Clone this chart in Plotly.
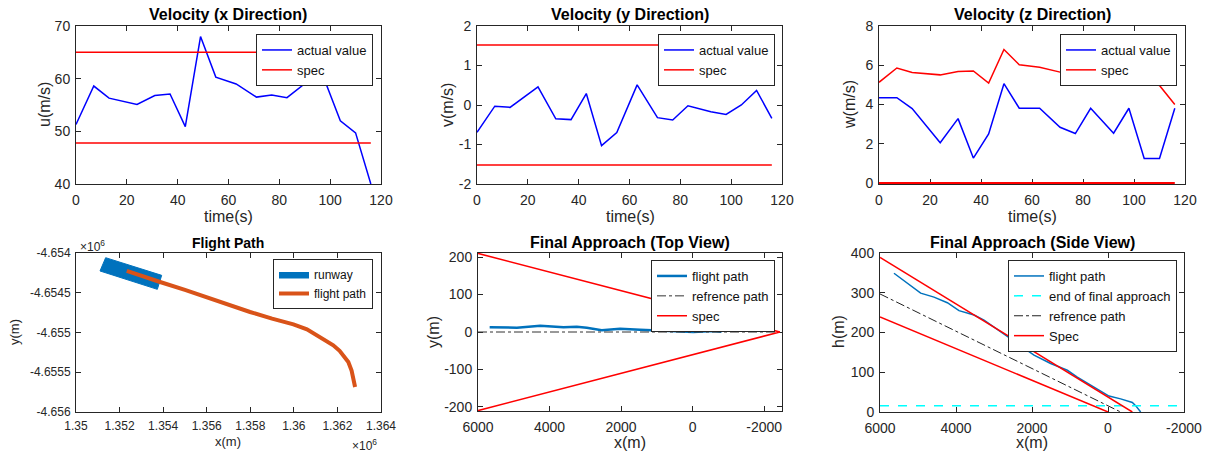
import plotly.graph_objects as go

W, H = 1209, 457
FONT = "Liberation Sans, Arial, Helvetica, sans-serif"
TICKC = "#262626"

# ---------------- data ----------------
time_s = [0, 7, 13, 24, 31, 37, 43, 49, 55, 63, 71, 77, 83, 92, 98, 104, 110, 116]
u_actual = [51.3, 58.6, 56.3, 55.1, 56.8, 57.1, 50.9, 68.0, 60.3, 59.0, 56.5, 56.9, 56.4, 59.8, 59.5, 52.0, 49.7, 40.0]
u_spec_hi = 65.0
u_spec_lo = 47.8
v_actual = [-0.69, -0.03, -0.06, 0.46, -0.35, -0.37, 0.29, -1.03, -0.70, 0.51, -0.32, -0.38, -0.02, -0.17, -0.24, 0.0, 0.37, -0.34]
v_spec_hi = 1.52
v_spec_lo = -1.52
w_actual = [4.35, 4.35, 3.79, 2.05, 3.28, 1.27, 2.50, 5.06, 3.81, 3.81, 2.84, 2.52, 3.81, 2.54, 3.81, 1.25, 1.25, 3.81]
w_spec_hi = [5.13, 5.86, 5.63, 5.51, 5.68, 5.71, 5.09, 6.80, 6.03, 5.90, 5.65, 5.69, 5.64, 5.98, 5.95, 5.20, 4.97, 4.00]
w_spec_lo = 0.0

# tick labels
time_ticks = [0, 20, 40, 60, 80, 100, 120]
u_ticks = [40, 50, 60, 70]
v_ticks = [-2, -1, 0, 1, 2]
w_ticks = [0, 2, 4, 6, 8]
fp_x_ticks = [1350000, 1352000, 1354000, 1356000, 1358000, 1360000, 1362000, 1364000]
fp_x_labels = ["1.35", "1.352", "1.354", "1.356", "1.358", "1.36", "1.362", "1.364"]
fp_y_ticks = [-4656000, -4655500, -4655000, -4654500, -4654000]
fp_y_labels = ["-4.656", "-4.6555", "-4.655", "-4.6545", "-4.654"]
app_x_ticks = [6000, 4000, 2000, 0, -2000]
top_y_ticks = [-200, -100, 0, 100, 200]
side_h_ticks = [0, 100, 200, 300, 400]

# flight path (global coordinates, m)
path_x = [1352330, 1353000, 1353860, 1355000, 1356000, 1357000, 1357990, 1359000, 1359980,
          1360600, 1361050, 1361500, 1361810, 1362100, 1362300, 1362500, 1362650, 1362810]
path_y = [-4654226, -4654290, -4654365, -4654465, -4654562, -4654655, -4654742, -4654825, -4654897,
          -4654960, -4655036, -4655110, -4655161, -4655230, -4655300, -4655371, -4655480, -4655686]
runway_x = [1351362, 1351102, 1353733, 1353932, 1351362]
runway_y = [-4654059, -4654226, -4654457, -4654281, -4654059]

# final approach, top view
top_x = [5674, 4912, 4260, 3609, 3237, 2958, 2540, 2028, 1470, 726, -19, -577, -809]
top_y = [12.5, 11.6, 16.9, 12.5, 14.3, 11.6, 4.5, 8.9, 6.2, 3.6, 0.0, 2.7, 0.9]
top_ref_x = [6000, -2440]
top_ref_y = [0, 0]
top_spec_x = [6000, -2440, 6000]
top_spec_y = [210, 0, -210]

# final approach, side view
side_x = [5632, 5281, 4930, 4579, 4228, 3921, 3702, 3526, 3263, 2825, 2386, 1947, 1509, 1070,
          807, 456, 193, -26, -333, -640, -728, -860]
side_h = [349, 324, 299, 289, 275, 255, 248, 244, 231, 202, 172, 143, 122, 105,
          88, 67, 51, 40, 33, 24, 16, 0]
end_final_x = [6000, -2000]
end_final_h = [16, 16]
side_ref_x = [6000, -333]
side_ref_h = [297, 0]
side_spec_hi_x = [6000, -640]
side_spec_hi_h = [389, 0]
side_spec_lo_x = [6000, 0]
side_spec_lo_h = [239, 0]

# ---------------- layout helpers ----------------
def px_x(p):
    return p / W

def px_y(p):
    return 1 - p / H

def lbl(vals):
    return [str(v) for v in vals]

panels = {
    1: ((76, 381), (26, 184)),
    2: ((477, 782), (26, 184)),
    3: ((879, 1185), (26, 184)),
    4: ((76, 381), (253, 412)),
    5: ((478, 782), (253, 411)),
    6: ((880, 1184), (253, 412)),
}

fig = go.Figure()

BLUE = "#0000FF"
RED = "#FF0000"
MBLUE = "#0072BD"
ORANGE = "#D95319"

def add(trace):
    fig.add_trace(trace)

# Panel 1
add(go.Scatter(x=time_s, y=u_actual, mode="lines", line=dict(color=BLUE, width=1.5),
               name="actual value", xaxis="x", yaxis="y", legend="legend"))
add(go.Scatter(x=[0, 116], y=[u_spec_hi, u_spec_hi], mode="lines", line=dict(color=RED, width=1.5),
               name="spec", xaxis="x", yaxis="y", legend="legend"))
add(go.Scatter(x=[0, 116], y=[u_spec_lo, u_spec_lo], mode="lines", line=dict(color=RED, width=1.5),
               name="spec", showlegend=False, xaxis="x", yaxis="y", legend="legend"))
# Panel 2
add(go.Scatter(x=time_s, y=v_actual, mode="lines", line=dict(color=BLUE, width=1.5),
               name="actual value", xaxis="x2", yaxis="y2", legend="legend2"))
add(go.Scatter(x=[0, 116], y=[v_spec_hi, v_spec_hi], mode="lines", line=dict(color=RED, width=1.5),
               name="spec", xaxis="x2", yaxis="y2", legend="legend2"))
add(go.Scatter(x=[0, 116], y=[v_spec_lo, v_spec_lo], mode="lines", line=dict(color=RED, width=1.5),
               name="spec", showlegend=False, xaxis="x2", yaxis="y2", legend="legend2"))
# Panel 3
add(go.Scatter(x=time_s, y=w_actual, mode="lines", line=dict(color=BLUE, width=1.5),
               name="actual value", xaxis="x3", yaxis="y3", legend="legend3"))
add(go.Scatter(x=time_s, y=w_spec_hi, mode="lines", line=dict(color=RED, width=1.5),
               name="spec", xaxis="x3", yaxis="y3", legend="legend3"))
add(go.Scatter(x=[0, 116], y=[w_spec_lo, w_spec_lo], mode="lines", line=dict(color=RED, width=2),
               name="spec", showlegend=False, xaxis="x3", yaxis="y3", legend="legend3"))
# Panel 4
add(go.Scatter(x=runway_x, y=runway_y, mode="lines", fill="toself", fillcolor=MBLUE,
               line=dict(color=MBLUE, width=1), name="runway", xaxis="x4", yaxis="y4", legend="legend4"))
add(go.Scatter(x=path_x, y=path_y, mode="lines", line=dict(color=ORANGE, width=4),
               name="flight path", xaxis="x4", yaxis="y4", legend="legend4"))
# Panel 5
add(go.Scatter(x=top_x, y=top_y, mode="lines", line=dict(color=MBLUE, width=2.5),
               name="flight path", xaxis="x5", yaxis="y5", legend="legend5"))
add(go.Scatter(x=top_ref_x, y=top_ref_y, mode="lines", line=dict(color="#333333", width=1, dash="dashdot"),
               name="refrence path", xaxis="x5", yaxis="y5", legend="legend5"))
add(go.Scatter(x=top_spec_x, y=top_spec_y, mode="lines", line=dict(color=RED, width=1.5),
               name="spec", xaxis="x5", yaxis="y5", legend="legend5"))
# Panel 6
add(go.Scatter(x=side_x, y=side_h, mode="lines", line=dict(color=MBLUE, width=1.5),
               name="flight path", xaxis="x6", yaxis="y6", legend="legend6"))
add(go.Scatter(x=end_final_x, y=end_final_h, mode="lines", line=dict(color="#00FFFF", width=1.5, dash="dash"),
               name="end of final approach", xaxis="x6", yaxis="y6", legend="legend6"))
add(go.Scatter(x=side_ref_x, y=side_ref_h, mode="lines", line=dict(color="#222222", width=1, dash="dashdot"),
               name="refrence path", xaxis="x6", yaxis="y6", legend="legend6"))
add(go.Scatter(x=side_spec_hi_x, y=side_spec_hi_h, mode="lines", line=dict(color=RED, width=1.5),
               name="Spec", xaxis="x6", yaxis="y6", legend="legend6"))
add(go.Scatter(x=side_spec_lo_x, y=side_spec_lo_h, mode="lines", line=dict(color=RED, width=1.5),
               name="Spec", showlegend=False, xaxis="x6", yaxis="y6", legend="legend6"))

def axis(dom, rng, tickvals, ticktext, fs=14, anchor=None, standoff=3):
    return dict(domain=dom, range=rng, showline=True, linecolor=TICKC, linewidth=1,
                mirror="ticks", ticks="inside", ticklen=5, tickcolor=TICKC, tickwidth=1,
                showgrid=False, zeroline=False, tickfont=dict(family=FONT, size=fs, color=TICKC),
                anchor=anchor, fixedrange=True, automargin=False, layer="below traces",
                tickmode="array", tickvals=tickvals, ticktext=ticktext, ticklabelstandoff=standoff)

layout = dict(width=W, height=H, autosize=False,
              margin=dict(l=0, r=0, t=0, b=0, pad=0, autoexpand=False),
              paper_bgcolor="white", plot_bgcolor="white", font=dict(family=FONT, color=TICKC))

ranges = {
    1: ([0, 120], [40, 70], u_ticks),
    2: ([0, 120], [-2, 2], v_ticks),
    3: ([0, 120], [-0.05, 8], w_ticks),
}
for i in (1, 2, 3):
    (x0, x1), (y0, y1) = panels[i]
    xr, yr, yt = ranges[i]
    sfx = "" if i == 1 else str(i)
    layout["xaxis" + sfx] = axis([px_x(x0), px_x(x1)], xr, time_ticks, lbl(time_ticks), anchor="y" + sfx)
    layout["yaxis" + sfx] = axis([px_y(y1), px_y(y0)], yr, yt, lbl(yt), anchor="x" + sfx, standoff=2)

# Panel 4 axes
(x0, x1), (y0, y1) = panels[4]
layout["xaxis4"] = axis([px_x(x0), px_x(x1)], [1350000, 1364000], fp_x_ticks, fp_x_labels, fs=12, anchor="y4")
layout["yaxis4"] = axis([px_y(y1), px_y(y0)], [-4656000, -4654000], fp_y_ticks, fp_y_labels, fs=12, anchor="x4", standoff=2)
# Panel 5
(x0, x1), (y0, y1) = panels[5]
layout["xaxis5"] = axis([px_x(x0), px_x(x1)], [6000, -2500], app_x_ticks, lbl(app_x_ticks), anchor="y5")
layout["yaxis5"] = axis([px_y(y1), px_y(y0)], [-211, 211], top_y_ticks, lbl(top_y_ticks), anchor="x5", standoff=2)
# Panel 6
(x0, x1), (y0, y1) = panels[6]
layout["xaxis6"] = axis([px_x(x0), px_x(x1)], [6000, -2000], app_x_ticks, lbl(app_x_ticks), anchor="y6")
layout["yaxis6"] = axis([px_y(y1), px_y(y0)], [0, 400], side_h_ticks, lbl(side_h_ticks), anchor="x6", standoff=2)

# legends
legend_pos = {1: (373, 34, 13), 2: (775, 34, 13), 3: (1177, 34, 13),
              4: (373, 259, 12), 5: (775, 260, 13), 6: (1177, 260, 13)}
for i, (rx, ty, fs) in legend_pos.items():
    key = "legend" if i == 1 else "legend" + str(i)
    layout[key] = dict(x=px_x(rx), y=px_y(ty), xanchor="right", yanchor="top",
                       bgcolor="white", bordercolor="#262626", borderwidth=1,
                       font=dict(family=FONT, size=fs, color="#111111"),
                       itemwidth=30, tracegroupgap=0, traceorder="normal")

fig.update_layout(**layout)

ann = []
def text(x, y, s, size=13, bold=False, angle=0, xanchor="center", color="#262626"):
    ann.append(dict(x=px_x(x), y=px_y(y), xref="paper", yref="paper", text=("<b>%s</b>" % s) if bold else s,
                    showarrow=False, xanchor=xanchor, yanchor="middle", textangle=angle,
                    font=dict(family=FONT, size=size, color=color)))

# titles
text(228, 15, "Velocity (x Direction)", 16, True, color="black")
text(630, 15, "Velocity (y Direction)", 16, True, color="black")
text(1032, 15, "Velocity (z Direction)", 16, True, color="black")
text(228, 243, "Flight Path", 14, True, color="black")
text(630, 242, "Final Approach (Top View)", 16, True, color="black")
text(1032, 242, "Final Approach (Side View)", 16, True, color="black")
# x labels
text(228, 217, "time(s)", 16)
text(630, 217, "time(s)", 16)
text(1032, 217, "time(s)", 16)
text(228, 441, "x(m)", 13)
text(630, 442, "x(m)", 16)
text(1032, 442, "x(m)", 16)
# y labels
text(45, 105, "u(m/s)", 16, angle=-90)
text(448, 105, "v(m/s)", 16, angle=-90)
text(850, 105, "w(m/s)", 16, angle=-90)
text(14, 332, "y(m)", 13, angle=-90)
text(433, 332, "y(m)", 16, angle=-90)
text(838, 332, "h(m)", 16, angle=-90)
# exponents
text(78, 246, "×10<sup>6</sup>", 12, xanchor="left")
text(350, 445, "×10<sup>6</sup>", 12, xanchor="left")

fig.update_layout(annotations=ann)
fig.write_html("out.html")
